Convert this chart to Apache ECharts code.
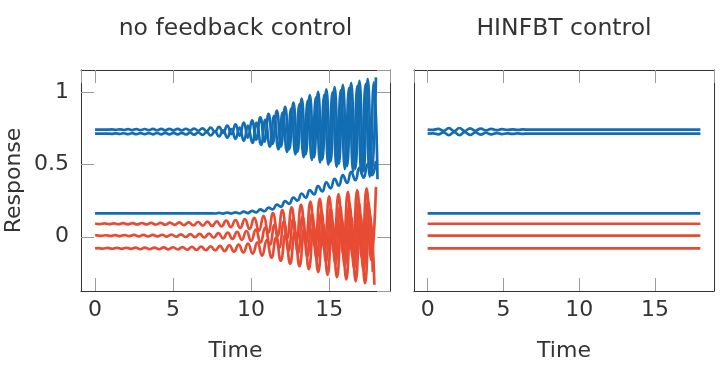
<!DOCTYPE html>
<html><head><meta charset="utf-8">
<script src="https://cdn.jsdelivr.net/npm/echarts@6/dist/echarts.min.js"></script>
<style>html,body{margin:0;padding:0;background:#fff}#c{width:720px;height:373px}</style>
</head><body><div id="c"></div>
<script>
// ---- data ----
const titles = ['no feedback control', 'HINFBT control'];
const xTickValues = [0, 5, 10, 15];
const yTickValues = [0, 0.5, 1];

// no feedback control: blue pair, lower blue
const tBlue = [0,0.26,0.53,0.79,1.06,1.32,1.59,1.85,2.12,2.38,2.65,2.91,3.18,3.44,3.71,3.97,4.24,4.5,4.76,5.03,5.29,5.56,5.82,6.09,6.35,6.62,6.88,7.15,7.41,7.68,7.94,8.21,8.47,8.74,9,9.26,9.53,9.79,10.06,10.32,10.59,10.85,11.12,11.38,11.65,11.91,12.18,12.44,12.71,12.97,13.24,13.5,13.76,14.03,14.29,14.56,14.82,15.09,15.35,15.62,15.88,16.15,16.41,16.68,16.94,17.21,17.47,17.74,18];
const tBlueB = [0,0.26,0.53,0.79,1.06,1.32,1.59,1.85,2.12,2.38,2.65,2.91,3.18,3.44,3.71,3.97,4.24,4.5,4.76,5.03,5.29,5.56,5.82,6.09,6.35,6.62,6.88,7.15,7.41,7.68,7.94,8.21,8.47,8.74,9,9.26,9.53,9.8,10.08,10.35,10.64,10.91,11.2,11.47,11.75,12.02,12.3,12.57,12.84,13.1,13.37,13.63,13.89,14.16,14.42,14.69,14.95,15.22,15.48,15.75,16.01,16.28,16.54,16.81,17.07,17.34,17.6,17.87,18.1];
const noFbA = [0.741,0.741,0.741,0.7405,0.742,0.7395,0.743,0.7383,0.744,0.7376,
  0.7447,0.737,0.745,0.7368,0.7454,0.7365,0.7456,0.7362,0.7459,0.736,
  0.7463,0.7355,0.7468,0.7348,0.748,0.733,0.750,0.730,0.754,0.725,
  0.760,0.718,0.768,0.709,0.777,0.699,0.790,0.685,0.805,0.671,
  0.826,0.657,0.849,0.642,0.873,0.624,0.899,0.606,0.928,0.589,
  0.955,0.569,0.980,0.550,1.002,0.534,1.019,0.519,1.035,0.504,
  1.050,0.489,1.064,0.471,1.078,0.453,1.090,0.435,1.102];
const noFbB = [0.713,0.713,0.713,0.7135,0.712,0.7145,0.711,0.7157,0.710,0.7164,
  0.7093,0.717,0.709,0.7172,0.7086,0.7175,0.7084,0.7178,0.7081,0.718,
  0.7077,0.7185,0.7072,0.7192,0.706,0.721,0.704,0.724,0.700,0.729,
  0.694,0.736,0.686,0.745,0.677,0.755,0.664,0.769,0.649,0.787,
  0.636,0.809,0.623,0.834,0.605,0.858,0.587,0.886,0.570,0.915,
  0.551,0.939,0.532,0.964,0.514,0.982,0.499,0.999,0.483,1.014,
  0.468,1.029,0.452,1.043,0.434,1.055,0.416,1.067,0.398];
const noFbC = [0.162,0.162,0.162,0.162,0.162,0.162,0.162,0.162,0.162,0.162,
  0.162,0.162,0.162,0.162,0.162,0.162,0.162,0.162,0.162,0.162,
  0.162,0.162,0.162,0.162,0.162,0.162,0.162,0.162,0.162,0.161,
  0.165,0.1605,0.167,0.1605,0.169,0.161,0.174,0.1635,0.179,0.168,
  0.189,0.1765,0.202,0.189,0.222,0.207,0.246,0.228,0.271,0.250,
  0.299,0.270,0.323,0.293,0.350,0.314,0.377,0.335,0.401,0.353,
  0.426,0.372,0.449,0.391,0.476,0.409,0.502,0.426,0.525];

// no feedback control: three red lines
const tRedD = [0,0.3,0.6,0.9,1.2,1.5,1.8,2.1,2.4,2.7,3,3.3,3.6,3.9,4.2,4.5,4.8,5.1,5.4,5.7,6,6.3,6.6,6.9,7.2,7.5,7.8,8.1,8.4,8.7,9,9.3,9.6,9.9,10.2,10.5,10.8,11.1,11.4,11.7,12,12.3,12.6,12.9,13.2,13.5,13.8,14.1,14.4,14.7,15,15.3,15.6,15.9,16.2,16.5,16.8,17.1,17.4,17.7,18];
const noFbD = [0.092,0.088,0.0925,0.087,0.093,0.0865,0.094,0.086,0.0945,0.085,
  0.095,0.085,0.0955,0.084,0.096,0.083,0.0975,0.082,0.099,0.0805,
  0.100,0.079,0.102,0.077,0.104,0.075,0.107,0.071,0.111,0.067,
  0.116,0.061,0.122,0.054,0.130,0.042,0.145,0.027,0.163,0.006,
  0.185,-0.014,0.203,-0.032,0.222,-0.052,0.243,-0.073,0.262,-0.091,
  0.280,-0.108,0.295,-0.123,0.310,-0.136,0.323,-0.149,0.334,-0.160,
  0.345];
const tRedE = [0,0.1,0.4,0.7,1,1.3,1.6,1.9,2.2,2.5,2.8,3.1,3.4,3.7,4,4.3,4.6,4.9,5.2,5.5,5.8,6.1,6.4,6.7,7,7.3,7.6,7.9,8.2,8.5,8.8,9.1,9.4,9.7,10,10.3,10.6,10.9,11.2,11.5,11.8,12.1,12.4,12.7,13,13.3,13.6,13.9,14.2,14.5,14.8,15.1,15.4,15.7,16,16.3,16.6,16.9,17.2,17.5,17.8];
const noFbE = [0.008,
  0.010,0.006,0.0105,0.005,0.011,0.0045,0.012,0.004,0.0125,0.003,
  0.013,0.003,0.0135,0.002,0.014,0.001,0.0155,0.000,0.017,-0.0015,
  0.018,-0.003,0.020,-0.005,0.022,-0.007,0.025,-0.011,0.029,-0.015,
  0.034,-0.021,0.040,-0.028,0.049,-0.041,0.064,-0.056,0.082,-0.077,
  0.104,-0.097,0.122,-0.115,0.141,-0.135,0.162,-0.156,0.181,-0.174,
  0.199,-0.191,0.214,-0.206,0.229,-0.219,0.242,-0.232,0.253,-0.243];
const tRedF = [0,0.2,0.5,0.8,1.1,1.4,1.7,2,2.3,2.6,2.9,3.2,3.5,3.8,4.1,4.4,4.7,5,5.3,5.6,5.9,6.2,6.5,6.8,7.1,7.4,7.7,8,8.3,8.6,8.9,9.2,9.5,9.8,10.1,10.4,10.7,11,11.3,11.6,11.9,12.2,12.5,12.8,13.1,13.4,13.7,14,14.3,14.6,14.9,15.2,15.5,15.8,16.1,16.4,16.7,17,17.3,17.6,17.9];
const noFbF = [-0.08,
  -0.078,-0.082,-0.0775,-0.083,-0.077,-0.0835,-0.076,-0.084,-0.0755,-0.085,
  -0.075,-0.085,-0.0745,-0.086,-0.074,-0.087,-0.0725,-0.088,-0.071,-0.0895,
  -0.070,-0.091,-0.068,-0.093,-0.066,-0.095,-0.063,-0.099,-0.059,-0.103,
  -0.054,-0.109,-0.048,-0.116,-0.038,-0.130,-0.023,-0.145,-0.005,-0.166,
  0.017,-0.186,0.035,-0.204,0.054,-0.224,0.075,-0.245,0.094,-0.263,
  0.112,-0.280,0.127,-0.295,0.142,-0.308,0.155,-0.321,0.166,-0.332];

// HINFBT control
const tHinf = [0,0.35,0.7,1.05,1.4,1.75,2.1,2.45,2.8,3.15,3.5,3.85,4.2,4.55,4.9,5.25,5.6,5.95,6.3,6.65,7,18];
const hinfA = [0.741,0.739,0.746,0.733,0.751,0.730,0.752,0.731,0.750,0.733,0.748,0.735,0.746,0.737,0.744,0.7385,0.743,0.7395,0.742,0.7405,0.741,0.741];
const hinfB = [0.713,0.715,0.708,0.721,0.703,0.724,0.702,0.723,0.704,0.721,0.706,0.719,0.708,0.717,0.710,0.7155,0.711,0.7145,0.712,0.7135,0.713,0.713];
const tFlat = [0, 18];
const hinfC = [0.162, 0.162];
const hinfD = [0.09, 0.09];
const hinfE = [0.008, 0.008];
const hinfF = [-0.08, -0.08];

// ---- chart ----
const BLUE = '#126db3', RED = '#e84b34';
const FONT = 'DejaVu Sans', TXT = '#333';
const pts = (t, y) => t.map((v, i) => [v, y[i]]);
const mkTick = (show) => ({ show: show, inside: true, length: 13, lineStyle: { color: '#9a9a9a', width: 1 } });
const mkLine = () => ({ show: true, onZero: false, lineStyle: { color: '#333', width: 1 } });

const xBase = (gi, pos, showLabel, name) => ({
  type: 'value', gridIndex: gi, position: pos, min: -0.9, max: 18.9,
  splitNumber: 4, minInterval: 5, maxInterval: 5,
  axisLine: mkLine(), splitLine: { show: false },
  axisTick: mkTick(true),
  axisLabel: { show: showLabel, showMinLabel: false, showMaxLabel: false, margin: 8,
    fontFamily: FONT, fontSize: 22, color: TXT,
    formatter: v => xTickValues.includes(v) ? String(v) : '' },
  name: name, nameLocation: 'middle', nameGap: 49,
  nameTextStyle: { fontFamily: FONT, fontSize: 22, color: TXT }
});
const yBase = (gi, pos, showLabel, showTick, name) => ({
  type: 'value', gridIndex: gi, position: pos, min: -0.375, max: 1.153,
  splitNumber: 3, minInterval: 0.5, maxInterval: 0.5,
  axisLine: mkLine(), splitLine: { show: false },
  axisTick: mkTick(showTick),
  axisLabel: { show: showLabel, showMinLabel: false, showMaxLabel: false, margin: 12,
    fontFamily: FONT, fontSize: 22, color: TXT,
    formatter: v => yTickValues.includes(v) ? String(v) : '' },
  name: name, nameLocation: 'middle', nameGap: 56,
  nameTextStyle: { fontFamily: FONT, fontSize: 22, color: TXT }
});

const line = (data, color, xi, yi) => ({
  type: 'line', data, xAxisIndex: xi, yAxisIndex: yi, smooth: true,
  showSymbol: false, symbol: 'none', silent: true, animation: false,
  lineStyle: { color, width: 2.7 }
});

const chart = echarts.init(document.getElementById('c'), null, { renderer: 'canvas' });
chart.setOption({
  animation: false,
  backgroundColor: '#fff',
  title: [
    { text: titles[0], left: 235.5, top: 17, textAlign: 'center', padding: 0,
      textStyle: { fontFamily: FONT, fontSize: 23.5, fontWeight: 'normal', color: TXT } },
    { text: titles[1], left: 564, top: 17, textAlign: 'center', padding: 0,
      textStyle: { fontFamily: FONT, fontSize: 23.5, fontWeight: 'normal', color: TXT } }
  ],
  grid: [
    { left: 81, top: 70, width: 309, height: 221, show: false },
    { left: 414, top: 70, width: 300, height: 221, show: false }
  ],
  xAxis: [
    xBase(0, 'bottom', true, 'Time'),
    xBase(0, 'top', false, ''),
    xBase(1, 'bottom', true, 'Time'),
    xBase(1, 'top', false, '')
  ],
  yAxis: [
    yBase(0, 'left', true, true, 'Response'),
    yBase(0, 'right', false, true, ''),
    yBase(1, 'left', false, false, ''),
    yBase(1, 'right', false, false, '')
  ],
  series: [
    line(pts(tBlue, noFbA), BLUE, 0, 0),
    line(pts(tBlueB, noFbB), BLUE, 0, 0),
    line(pts(tBlue, noFbC), BLUE, 0, 0),
    line(pts(tRedD, noFbD), RED, 0, 0),
    line(pts(tRedE, noFbE), RED, 0, 0),
    line(pts(tRedF, noFbF), RED, 0, 0),
    line(pts(tHinf, hinfA), BLUE, 2, 2),
    line(pts(tHinf, hinfB), BLUE, 2, 2),
    line(pts(tFlat, hinfC), BLUE, 2, 2),
    line(pts(tFlat, hinfD), RED, 2, 2),
    line(pts(tFlat, hinfE), RED, 2, 2),
    line(pts(tFlat, hinfF), RED, 2, 2)
  ]
});
</script></body></html>
